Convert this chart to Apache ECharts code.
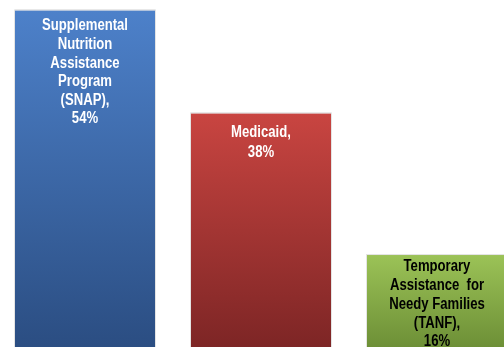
<!DOCTYPE html>
<html><head><meta charset="utf-8">
<script src="https://cdn.jsdelivr.net/npm/echarts@6/dist/echarts.min.js"></script>
<style>html,body{margin:0;padding:0;background:#fff}#c{width:504px;height:347px}</style>
</head><body><div id="c"></div>
<script>
const categories = ['SNAP', 'Medicaid', 'TANF'];
const labelNames = [
  'Supplemental\nNutrition\nAssistance\nProgram\n(SNAP)',
  'Medicaid',
  'Temporary\nAssistance  for\nNeedy Families\n(TANF)'
];
const values = [54, 38, 16];
const topColors = ['#4d81ca', '#c94541', '#9cc357'];
const bottomColors = ['#2a4c80', '#7a2424', '#688a33'];
const labelColors = ['#ffffff', '#ffffff', '#000000'];
const labelOffsets = [16.5, 20.5, 13];
const labelLineHeights = [18.6, 20, 18.7];

const chart = echarts.init(document.getElementById('c'));
chart.setOption({
  animation: false,
  grid: { left: -3, width: 528, top: 3, height: 354, containLabel: false, outerBoundsMode: 'none' },
  xAxis: { type: 'category', data: categories, show: false },
  yAxis: { type: 'value', min: 0, max: 55, show: false },
  series: [{
    type: 'bar',
    barWidth: 142,
    data: values.map((v, i) => ({
      value: v,
      itemStyle: {
        color: new echarts.graphic.LinearGradient(0, 0, 0, 1, [
          { offset: 0, color: topColors[i] },
          { offset: 1, color: bottomColors[i] }
        ]),
        borderColor: '#e4e4e4',
        borderWidth: 1
      }
    }))
  }]
});

const graphics = values.map((v, i) => {
  const p = chart.convertToPixel({ seriesIndex: 0 }, [i, v]);
  const lh = labelLineHeights[i];
  return {
    type: 'text',
    x: p[0],
    y: p[1] + labelOffsets[i] - lh / 2,
    scaleX: 0.82,
    style: {
      text: labelNames[i] + ',\n' + v + '%',
      fill: labelColors[i],
      font: 'bold 16px "Liberation Sans", Arial, sans-serif',
      lineHeight: lh,
      align: 'center',
      verticalAlign: 'top'
    },
    z: 10
  };
});
chart.setOption({ graphic: graphics });
</script></body></html>
